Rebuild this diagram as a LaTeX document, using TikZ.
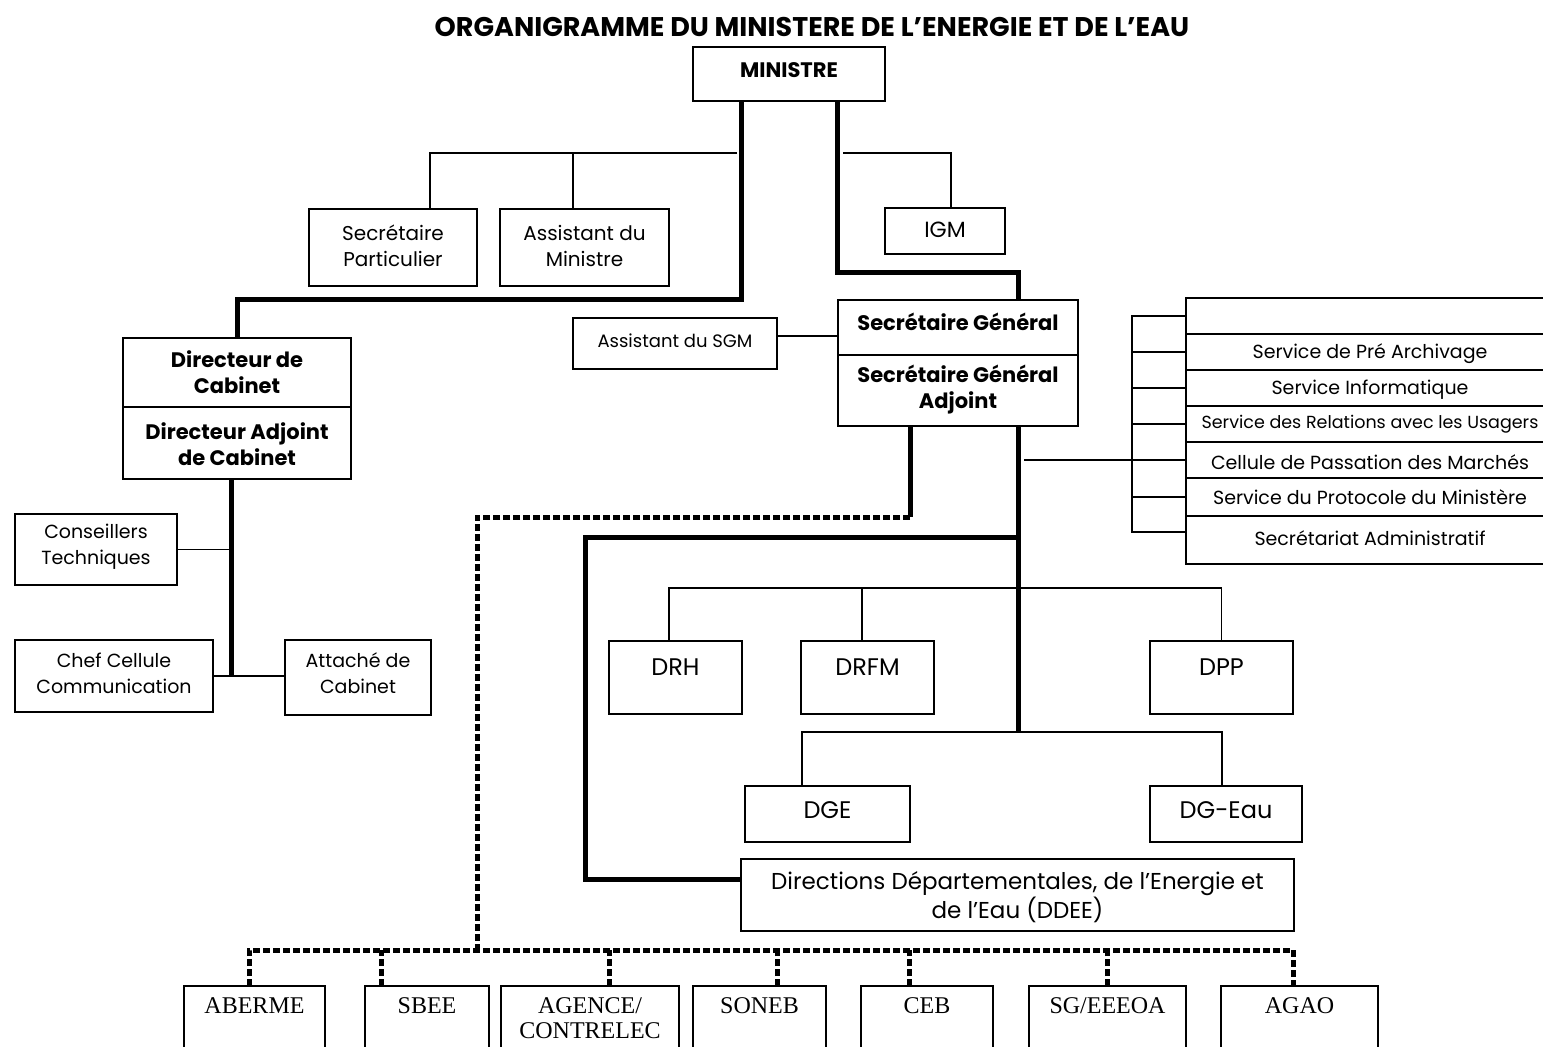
\documentclass[tikz,border=0pt]{standalone}
\usepackage{fontspec}
\setmainfont{Poppins}
\newfontfamily\tms{Liberation Serif}
\newcommand\bx[5]{\node[box, minimum width={#4-#2}, minimum height={#5-#3}] (#1) at ({(#2+#4)/2},{(#3+#5)/2}) {};}
\begin{document}
\begin{tikzpicture}[x=1pt,y=-1pt,
  box/.style={draw, line width=1.6pt, inner sep=0pt, outer sep=0pt},
  txt/.style={inner sep=0pt, align=center, font=\fontsize{20}{26}\selectfont},
  txtb/.style={inner sep=0pt, align=center, font=\fontsize{21}{26}\selectfont\bfseries},
  txts/.style={inner sep=0pt, align=center, font=\fontsize{19}{26}\selectfont},
  txtd/.style={inner sep=0pt, align=center, font=\fontsize{24}{28}\selectfont},
  txtt/.style={inner sep=0pt, align=center, font=\fontsize{24}{25}\tms},
  conn/.style={line width=1.6pt},
  heavy/.style={line width=5pt},
  heavydash/.style={line width=5pt, dash pattern=on 7pt off 3pt}]
\path[use as bounding box, clip] (0,0) rectangle (1543,1047);
\fill[white] (0,0) rectangle (1543,1047);
% boxes
\bx{min}{693}{47}{885}{101}
\bx{sp}{309}{209}{477}{286}
\bx{am}{500}{209}{669}{286}
\bx{igm}{885}{208}{1005}{254}
\bx{sg}{838}{300}{1078}{355}
\bx{sga}{838}{355}{1078}{426}
\bx{asgm}{573}{318}{777}{369}
\bx{dc}{123}{338}{351}{407}
\bx{dca}{123}{407}{351}{479}
\bx{ct}{15}{514}{177}{585}
\bx{ccc}{15}{640}{213}{712}
\bx{att}{285}{640}{431}{715}
\bx{drh}{609}{641}{742}{714}
\bx{drfm}{801}{641}{934}{714}
\bx{dpp}{1150}{641}{1293}{714}
\bx{dge}{745}{786}{910}{842}
\bx{dgeau}{1150}{786}{1302}{842}
\bx{ddee}{741}{859}{1294}{931}
\bx{sv1}{1186}{298}{1556}{334}
\bx{sv2}{1186}{334}{1556}{370}
\bx{sv3}{1186}{370}{1556}{406}
\bx{sv4}{1186}{406}{1556}{442}
\bx{sv5}{1186}{442}{1556}{478}
\bx{sv6}{1186}{478}{1556}{516}
\bx{sv7}{1186}{516}{1556}{564}
\bx{aberme}{184}{986}{325}{1080}
\bx{sbee}{365}{986}{489}{1080}
\bx{agence}{501}{986}{679}{1080}
\bx{soneb}{693}{986}{826}{1080}
\bx{ceb}{861}{986}{993}{1080}
\bx{sgeee}{1029}{986}{1186}{1080}
\bx{agao}{1221}{986}{1378}{1080}
% texts
\node[inner sep=0pt, font=\fontsize{27}{28}\selectfont\bfseries] (title) at (812,27) {ORGANIGRAMME DU MINISTERE DE L’ENERGIE ET DE L’EAU};
\node[inner sep=0pt, font=\fontsize{21}{26}\selectfont\bfseries] (min-t) at (789,70) {MINISTRE};
\node[txt] (sp-t) at (393,246) {Secrétaire\\Particulier};
\node[txt] (am-t) at (584.5,246) {Assistant du\\Ministre};
\node[inner sep=0pt, font=\fontsize{22}{26}\selectfont] (igm-t) at (945,230) {IGM};
\node[txtb] (sg-t) at (958,322) {Secrétaire Général};
\node[txtb] (sga-t) at (958,390) {Secrétaire Général\\Adjoint};
\node[inner sep=0pt, font=\fontsize{18}{26}\selectfont] (asgm-t) at (675,341) {Assistant du SGM};
\node[txtb] (dc-t) at (237,372) {Directeur de\\Cabinet};
\node[txtb] (dca-t) at (237,444) {Directeur Adjoint\\de Cabinet};
\node[txts] (ct-t) at (96,547) {Conseillers\\Techniques};
\node[txts] (ccc-t) at (114,673) {Chef Cellule\\Communication};
\node[txts] (att-t) at (358,673) {Attaché de\\Cabinet};
\node[txtd] (drh-t) at (675.5,667) {DRH};
\node[txtd] (drfm-t) at (867.5,667) {DRFM};
\node[txtd] (dpp-t) at (1221.5,667) {DPP};
\node[txtd] (dge-t) at (827.5,810) {DGE};
\node[txtd] (dgeau-t) at (1226,810) {DG-Eau};
\node[inner sep=0pt, align=center, font=\fontsize{23}{29}\selectfont] (ddee-t) at (1017.5,897) {Directions Départementales, de l'Energie et\\de l'Eau (DDEE)};
\node[txts] (sv2-t) at (1370,354) {Service de Pré Archivage};
\node[txts] (sv3-t) at (1370,390) {Service Informatique};
\node[inner sep=0pt, font=\fontsize{17.5}{22}\selectfont] (sv4-t) at (1370,424) {Service des Relations avec les Usagers};
\node[txts] (sv5-t) at (1370,462) {Cellule de Passation des Marchés};
\node[txts] (sv6-t) at (1370,497) {Service du Protocole du Ministère};
\node[txts] (sv7-t) at (1370,538) {Secrétariat Administratif};
\node[txtt] (aberme-t) at (254.5,1006) {ABERME};
\node[txtt] (sbee-t) at (427,1006) {SBEE};
\node[txtt] (agence-t) at (590,1018.5) {AGENCE/\\CONTRELEC};
\node[txtt] (soneb-t) at (759.5,1006) {SONEB};
\node[txtt] (ceb-t) at (927,1006) {CEB};
\node[txtt] (sgeee-t) at (1107.5,1006) {SG/EEEOA};
\node[txtt] (agao-t) at (1299.5,1006) {AGAO};
% connectors
\draw[heavy] ([xshift=-48pt]min.south) -- ++(0,198) -| (dc.north);
\draw[heavy] ([xshift=48pt]min.south) -- ++(0,171) -| ([xshift=60pt]sg.north);
\coordinate (jm) at (737,153);
\draw[conn] (jm) -| ([xshift=37pt]sp.north);
\draw[conn] ([xshift=-11.5pt]am.north) -- ++(0,-56);
\coordinate (ji) at (843,153);
\draw[conn] (ji) -| ([xshift=6pt]igm.north);
\draw[conn] ([yshift=7.5pt]asgm.east) -- ++(61,0);
\draw[heavy] ([xshift=-6pt]dca.south) -- ++(0,197);
\draw[conn] (ct.east) -- ++(54,0);
\draw[conn] (ccc.east) -- (ccc.east -| att.west);
\draw[heavy] ([xshift=-48pt]sga.south) -- ++(0,91) coordinate (k);
\coordinate (bus) at (477,950);
\draw[heavydash] (k) -| (bus);
\draw[heavydash] ([xshift=-5.5pt]aberme.north) -- ++(0,-36) -| ([xshift=-6.5pt]agao.north);
\foreach \n/\s in {sbee/-46, agence/19, soneb/17.5, ceb/-18, sgeee/0}
  \draw[heavydash] ([xshift=\s pt]\n.north) -- ++(0,-36);
\draw[heavy] ([xshift=60pt]sga.south) -- ++(0,306);
\coordinate (s1) at (1018,537);
\coordinate (c1) at (585,879);
\draw[heavy] (s1) -| (c1) -- ([yshift=16pt]ddee.west);
\draw[conn] ([xshift=-6.5pt]drh.north) -- ++(0,-53) -| (dpp.north);
\draw[conn] ([xshift=-5.5pt]drfm.north) -- ++(0,-53);
\draw[conn] ([xshift=-25.5pt]dge.north) -- ++(0,-54) -| ([xshift=-4pt]dgeau.north);
\coordinate (s4) at (1024,460);
\draw[conn] (s4) -- (sv5.west);
\draw[conn] ([yshift=8pt]sv7.west) -- ++(-54,0) |- (sv1.west);
\foreach \n in {sv2,sv3,sv4,sv6} \draw[conn] (\n.west) -- ++(-54,0);
\end{tikzpicture}
\end{document}
